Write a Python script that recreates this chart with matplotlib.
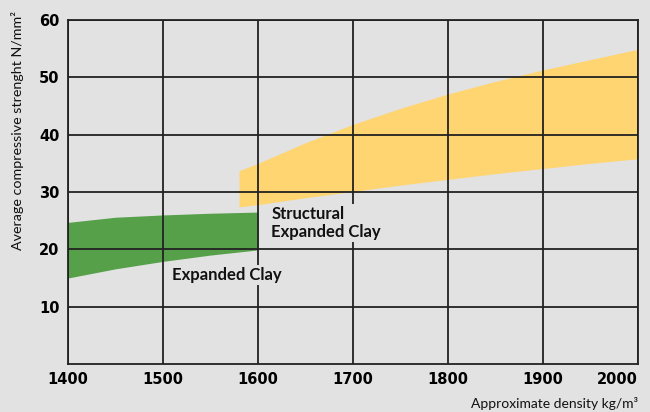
import matplotlib
matplotlib.use("Agg")
import matplotlib.pyplot as plt

# density (kg/m3) and strength bands (N/mm2)
clay_x = [1400, 1450, 1500, 1550, 1600]
clay_low = [15.0, 16.6, 17.9, 19.0, 19.9]
clay_high = [24.7, 25.6, 26.0, 26.3, 26.5]

struct_x = [1580, 1600, 1650, 1700, 1750, 1800, 1850, 1900, 1950, 2000]
struct_low = [27.4, 27.8, 29.0, 30.1, 31.2, 32.2, 33.2, 34.1, 35.0, 35.8]
struct_high = [33.7, 35.0, 38.6, 41.8, 44.6, 47.1, 49.3, 51.3, 53.1, 54.9]

x_ticks = [1400, 1500, 1600, 1700, 1800, 1900, 2000]
y_ticks = [10, 20, 30, 40, 50, 60]

bg = "#e2e2e2"
narrow = ["Lato", "DejaVu Sans"]

fig = plt.figure(figsize=(6.5, 4.12), dpi=100, facecolor=bg)
ax = fig.add_axes([68 / 650, 48 / 412, 570 / 650, 344 / 412])
ax.set_facecolor(bg)

ax.fill_between(clay_x, clay_low, clay_high, color="#56a04a", lw=0)
ax.fill_between(struct_x, struct_low, struct_high, color="#ffd572", lw=0)

ax.set_xlim(1400, 2000)
ax.set_ylim(0, 60)
ax.set_xticks(x_ticks)
ax.set_yticks(y_ticks)
ax.grid(True, color="#222222", lw=1.3)
ax.set_axisbelow(False)
for s in ax.spines.values():
    s.set_color("#222222")
    s.set_linewidth(1.3)
ax.tick_params(length=0, labelsize=10.5, pad=6)
for lab in ax.get_xticklabels() + ax.get_yticklabels():
    lab.set_fontweight("bold")
ax.get_xticklabels()[-1].set_horizontalalignment("right")
ax.get_xticklabels()[-1].set_x(2004)

box = dict(facecolor=bg, edgecolor="none", pad=1.5)
ax.text(1614, 24.6, "Structural\nExpanded Clay", family=narrow, fontsize=12,
        fontweight="bold", color="#111111", va="center", ha="left",
        linespacing=1.1, bbox=box, zorder=4)
ax.text(1509, 15.6, "Expanded Clay", family=narrow, fontsize=12,
        fontweight="bold", color="#111111", va="center", ha="left",
        bbox=box, zorder=4)

fig.text(18 / 650, 1 - 11 / 412, "Average compressive strenght N/mm²",
         family=narrow, fontsize=10.3, rotation=90, ha="center", va="top",
         color="#111111")
fig.text(638 / 650, 1 - 403 / 412, "Approximate density kg/m³",
         family=narrow, fontsize=10, ha="right", va="center", color="#111111")

fig.savefig("out.png", dpi=100, facecolor=bg)
